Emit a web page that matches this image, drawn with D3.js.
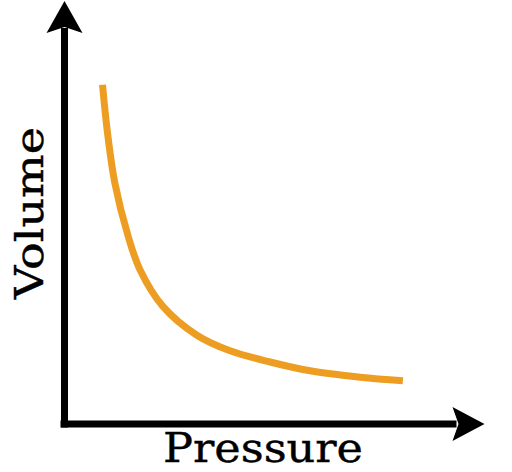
<!DOCTYPE html>
<html>
<head>
<meta charset="utf-8">
<script src="https://cdn.jsdelivr.net/npm/d3@7"></script>
<style>
  body { margin: 0; background: #fff; }
</style>
</head>
<body>
<script>
// valores (unidades arbitrarias)
const pressure = [0.95, 1.07, 1.26, 1.59, 1.89, 2.46, 3.31, 4.14, 5.14, 6.14, 7.39, 8.46];
const volume   = [8.48, 7.32, 6.02, 4.70, 3.85, 2.94, 2.22, 1.83, 1.55, 1.33, 1.17, 1.08];

const xLabel = "Pressure";
const yLabel = "Volume";

const [w, h] = [512, 472];

const svg = d3.select("body")
    .append("svg")
    .attr("width", w)
    .attr("height", h);

// escalas: 40px por unidad
const xScale = d3.scaleLinear().domain([0, 10.5]).range([64.5, 484.5]);
const yScale = d3.scaleLinear().domain([0, 10.6]).range([424, 0]);

// ejes sin ticks, solo la linea
const xAxis = d3.axisBottom(xScale).tickValues([]).tickSizeOuter(0);
const yAxis = d3.axisLeft(yScale).tickValues([]).tickSizeOuter(0);

const gx = svg.append("g")
    .attr("id", "x-axis")
    .attr("transform", "translate(0," + yScale(0) + ")")
    .call(xAxis);
gx.select(".domain")
    .attr("d", "M" + (xScale(0) - 4) + ",0H" + (xScale.range()[1] - 28))
    .attr("stroke", "#000")
    .attr("stroke-width", 7);

const gy = svg.append("g")
    .attr("id", "y-axis")
    .attr("transform", "translate(" + xScale(0) + ",0)")
    .call(yAxis);
gy.select(".domain")
    .attr("d", "M0," + (yScale(0) + 3.5) + "V" + (yScale.range()[1] + 28))
    .attr("stroke", "#000")
    .attr("stroke-width", 7);

// puntas de flecha
const tipX = xScale.range()[1];
const y0 = yScale(0);
svg.append("path")
    .attr("d", "M" + tipX + "," + y0 +
        "L" + (tipX - 32) + "," + (y0 - 17) +
        "L" + (tipX - 26) + "," + y0 +
        "L" + (tipX - 32) + "," + (y0 + 17) + "Z")
    .attr("fill", "#000");

const tipY = yScale.range()[1] + 1;
const x0 = xScale(0);
svg.append("path")
    .attr("d", "M" + x0 + "," + tipY +
        "L" + (x0 - 18) + "," + (tipY + 32) +
        "L" + x0 + "," + (tipY + 26) +
        "L" + (x0 + 18) + "," + (tipY + 32) + "Z")
    .attr("fill", "#000");

// curva
const line = d3.line()
    .x((d, i) => xScale(pressure[i]))
    .y((d) => yScale(d))
    .curve(d3.curveCatmullRom.alpha(0.5));

svg.append("path")
    .datum(volume)
    .attr("d", line)
    .attr("fill", "none")
    .attr("stroke", "#ED9E22")
    .attr("stroke-width", 7);

// etiquetas
svg.append("text")
    .attr("x", 263)
    .attr("y", 462)
    .attr("text-anchor", "middle")
    .attr("textLength", 200)
    .attr("lengthAdjust", "spacingAndGlyphs")
    .style("font-family", "'DejaVu Serif', serif")
    .style("font-size", "41px")
    .attr("fill", "#000")
    .attr("stroke", "#000")
    .attr("stroke-width", 0.4)
    .text(xLabel);

svg.append("text")
    .attr("transform", "translate(43,213) rotate(-90)")
    .attr("text-anchor", "middle")
    .attr("textLength", 172)
    .attr("lengthAdjust", "spacingAndGlyphs")
    .style("font-family", "'DejaVu Serif', serif")
    .style("font-size", "40px")
    .attr("fill", "#000")
    .attr("stroke", "#000")
    .attr("stroke-width", 0.4)
    .text(yLabel);
</script>
</body>
</html>
